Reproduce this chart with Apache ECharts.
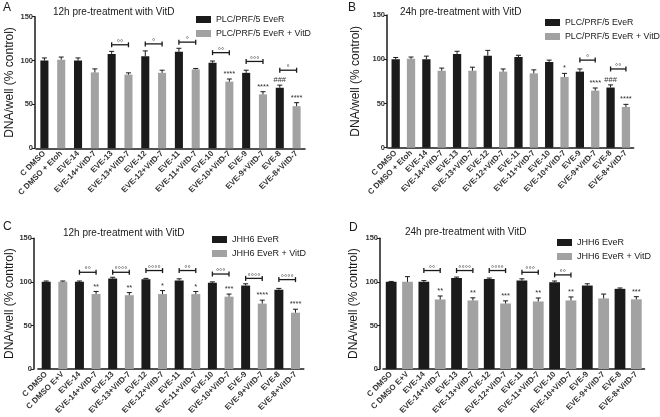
<!DOCTYPE html>
<html><head><meta charset="utf-8">
<script src="https://cdn.jsdelivr.net/npm/echarts@6/dist/echarts.min.js"></script>
<style>html,body{margin:0;padding:0;background:#fff}#c{width:660px;height:417px}</style>
</head><body><div id="c"></div>
<script>
const catsPLC = ['C DMSO','C DMSO + Etoh','EVE-14','EVE-14+VitD-7','EVE-13','EVE-13+VitD-7','EVE-12','EVE-12+VitD-7','EVE-11','EVE-11+VitD-7','EVE-10','EVE-10+VitD-7','EVE-9','EVE-9+VitD-7','EVE-8','EVE-8+VitD-7'];
const catsJHH = ['C DMSO','C DMSO E+V','EVE-14','EVE-14+VitD-7','EVE-13','EVE-13+VitD-7','EVE-12','EVE-12+VitD-7','EVE-11','EVE-11+VitD-7','EVE-10','EVE-10+VitD-7','EVE-9','EVE-9+VitD-7','EVE-8','EVE-8+VitD-7'];
const yTicks = [0, 50, 100, 150];

const meansA = [100,101,100,86.5,107.5,84,105,86,110,90,97.5,76,86,61.5,69,48];
const errA   = [3,3,3,4,3,2,6,3,4,1,2,3,3,3,3,4];
const starsA = ['','','','','','','','','','','','****','','****','###','****'];
const bracketsA = [[4,5,118,'°°'],[6,7,119,'°'],[8,9,121,'°'],[10,11,109,'°°'],[12,13,99,'°°°'],[14,15,89,'°']];

const meansB = [100,100.5,100,87,106,87,104,86,102.5,84,97,80,86,64.5,68,46];
const errB   = [2,2,3.5,3,3,4,6,3,2,4,2,4,3,3,3,3];
const starsB = ['','','','','','','','','','','','*','','****','###','****'];
const bracketsB = [[12,13,99,'°'],[14,15,89,'°°']];

const meansC = [100,100,100,86,103.8,84.7,103,86,101.5,86,99,83,95.8,75,91,64.6];
const errC   = [1,1,1,3,1.5,3,1,4,2,3,1,3,2,4,1.5,4];
const starsC = ['','','','**','','**','','*','','*','','***','','****','','****'];
const bracketsC = [[2,3,111,'°°'],[4,5,111,'°°°°'],[6,7,113,'°°°°'],[8,9,113,'°°'],[10,11,109,'°°°'],[12,13,104,'°°°°'],[14,15,102.6,'°°°°']];

const meansD = [100,100,100,79.8,104.5,78.7,103.4,75.2,101.5,77.5,99.5,78.7,95.8,81,92,80];
const errD   = [0.5,6,1.5,4,1,3,1,3,2,4,1.5,4,2,5,1,3];
const starsD = ['','','','**','','**','','***','','**','','**','','','','***'];
const bracketsD = [[2,3,113,'°°'],[4,5,113,'°°°°'],[6,7,113,'°°°°'],[8,9,111,'°°°'],[10,11,108,'°°']];

const namesPLC = ['PLC/PRF/5 EveR','PLC/PRF/5 EveR + VitD'];
const namesJHH = ['JHH6 EveR','JHH6 EveR + VitD'];

const FONT = "'Liberation Sans', Arial, Helvetica, sans-serif";
const BLACK = '#1b1b1b', GRAY = '#a2a2a2', INK = '#1a1a1a';

const panels = [
  {letter:'A', title:'12h pre-treatment with VitD', cats:catsPLC, means:meansA, errs:errA, stars:starsA, brackets:bracketsA, names:namesPLC,
   grid:{left:36,top:16.7,width:269,height:131.6}, yOff:1, nameGap:19, barW:'48%',
   letterPos:[3,2], titlePos:[53,7], legendPos:[196,15], legendFont:8.8},
  {letter:'B', title:'24h pre-treatment with VitD', cats:catsPLC, means:meansB, errs:errB, stars:starsB, brackets:bracketsB, names:namesPLC,
   grid:{left:388,top:15,width:245.6,height:132.7}, yOff:1, nameGap:25, barW:'54%',
   letterPos:[348,2], titlePos:[400,7], legendPos:[545,18], legendFont:8.8},
  {letter:'C', title:'12h pre-treatment with VitD', cats:catsJHH, means:meansC, errs:errC, stars:starsC, brackets:bracketsC, names:namesJHH,
   grid:{left:37.9,top:238.3,width:265.9,height:131.7}, yOff:4, nameGap:18, barW:'54%',
   letterPos:[3,221], titlePos:[63,228], legendPos:[212,235], legendFont:9},
  {letter:'D', title:'24h pre-treatment with VitD', cats:catsJHH, means:meansD, errs:errD, stars:starsD, brackets:bracketsD, names:namesJHH,
   grid:{left:383,top:238.3,width:261.5,height:131.7}, yOff:3, nameGap:20, barW:'66%',
   letterPos:[349,222], titlePos:[405,227], legendPos:[557,238], legendFont:9}
];

const option = {animation:false, textStyle:{fontFamily:FONT}, title:[], legend:[], grid:[], xAxis:[], yAxis:[], series:[]};

panels.forEach((p, k) => {
  option.title.push({text:p.letter, left:p.letterPos[0], top:p.letterPos[1], padding:0,
    textStyle:{fontFamily:FONT, fontSize:12, fontWeight:'normal', color:INK}});
  option.title.push({text:p.title, left:p.titlePos[0], top:p.titlePos[1], padding:0,
    textStyle:{fontFamily:FONT, fontSize:10, fontWeight:'normal', color:INK}});
  option.legend.push({data:p.names, orient:'vertical', left:p.legendPos[0], top:p.legendPos[1], padding:0,
    itemWidth:15, itemHeight:7, itemGap:5, icon:'rect', selectedMode:false,
    textStyle:{fontFamily:FONT, fontSize:p.legendFont, color:INK}});
  option.grid.push(Object.assign({containLabel:false}, p.grid));
  option.xAxis.push({type:'category', gridIndex:k, data:p.cats,
    axisLine:{lineStyle:{color:INK, width:1.5}},
    axisTick:{alignWithLabel:true, length:3, lineStyle:{color:INK, width:1}},
    axisLabel:{rotate:45, interval:0, fontSize:8, fontWeight:'bold', color:'#333', margin:4, fontFamily:FONT}});
  option.yAxis.push({type:'value', gridIndex:k, min:yTicks[0], max:yTicks[yTicks.length-1], interval:50, offset:p.yOff,
    axisLine:{show:true, lineStyle:{color:INK, width:1.5}},
    axisTick:{show:true, length:3, lineStyle:{color:INK, width:1}},
    splitLine:{show:false},
    axisLabel:{fontSize:7.5, fontWeight:'bold', color:'#333', margin:2, fontFamily:FONT},
    name:'DNA/well (% control)', nameLocation:'middle', nameGap:p.nameGap,
    nameTextStyle:{fontSize:12, color:INK, fontFamily:FONT}});
  option.series.push({type:'bar', name:p.names[0], xAxisIndex:k, yAxisIndex:k, barWidth:p.barW, barGap:'-100%',
    itemStyle:{color:BLACK}, data:p.means.map((v,i)=> i%2===0 ? v : '-')});
  option.series.push({type:'bar', name:p.names[1], xAxisIndex:k, yAxisIndex:k, barWidth:p.barW, barGap:'-100%',
    itemStyle:{color:GRAY}, data:p.means.map((v,i)=> i%2===1 ? v : '-')});
  // error bars + significance stars
  option.series.push({type:'custom', xAxisIndex:k, yAxisIndex:k, z:5,
    data:p.means.map((v,i)=>[i, v + p.errs[i]]),
    encode:{x:0, y:1},
    renderItem:(params, api) => {
      const i = params.dataIndex;
      const m = p.means[i], e = p.errs[i];
      const a = api.coord([i, m]), b = api.coord([i, m + e]);
      const children = [
        {type:'line', shape:{x1:a[0], y1:a[1], x2:b[0], y2:b[1]}, style:{stroke:INK, lineWidth:1}},
        {type:'line', shape:{x1:b[0]-2.5, y1:b[1], x2:b[0]+2.5, y2:b[1]}, style:{stroke:INK, lineWidth:1}}
      ];
      if (p.stars[i]) children.push({type:'text', x:b[0], y:b[1]-1,
        style:{text:p.stars[i], fontSize:7.5, fontFamily:FONT, fill:'#333', align:'center', verticalAlign:'bottom'}});
      return {type:'group', children};
    }});
  // significance brackets
  option.series.push({type:'custom', xAxisIndex:k, yAxisIndex:k, z:5,
    data:p.brackets.map(b=>[b[0], b[2], b[1]]),
    encode:{x:0, y:1},
    renderItem:(params, api) => {
      const br = p.brackets[params.dataIndex];
      const s = api.coord([br[0], br[2]]), t = api.coord([br[1], br[2]]);
      return {type:'group', children:[
        {type:'line', shape:{x1:s[0], y1:s[1], x2:t[0], y2:t[1]}, style:{stroke:INK, lineWidth:1.3}},
        {type:'line', shape:{x1:s[0], y1:s[1]-2.5, x2:s[0], y2:s[1]+2.5}, style:{stroke:INK, lineWidth:1.3}},
        {type:'line', shape:{x1:t[0], y1:t[1]-2.5, x2:t[0], y2:t[1]+2.5}, style:{stroke:INK, lineWidth:1.3}},
        {type:'text', x:(s[0]+t[0])/2, y:s[1]-2,
          style:{text:br[3], fontSize:8, fontFamily:FONT, fill:'#333', align:'center', verticalAlign:'middle'}}
      ]};
    }});
});

const chart = echarts.init(document.getElementById('c'), null, {renderer:'canvas'});
chart.setOption(option);
</script>
</body></html>
